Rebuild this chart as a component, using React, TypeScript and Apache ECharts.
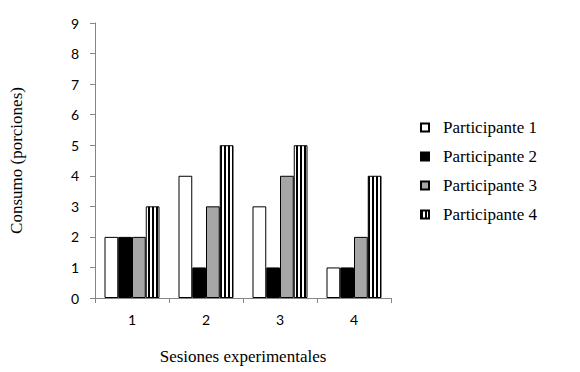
import React, { useEffect, useRef } from "react";
import * as echarts from "echarts";

const categories = ["1", "2", "3", "4"];
const seriesNames = ["Participante 1", "Participante 2", "Participante 3", "Participante 4"];
const p1 = [2, 4, 3, 1];
const p2 = [2, 1, 1, 1];
const p3 = [2, 3, 4, 2];
const p4 = [3, 5, 5, 4];
const yTicks = [0, 1, 2, 3, 4, 5, 6, 7, 8, 9];

function makeStripe(): HTMLCanvasElement {
  const c = document.createElement("canvas");
  c.width = 4;
  c.height = 4;
  const ctx = c.getContext("2d")!;
  ctx.fillStyle = "#ffffff";
  ctx.fillRect(0, 0, 4, 4);
  ctx.fillStyle = "#000000";
  ctx.fillRect(0, 0, 2, 4);
  return c;
}

export default function App() {
  const ref = useRef<HTMLDivElement>(null);
  useEffect(() => {
    if (!ref.current) return;
    const chart = echarts.init(ref.current, undefined, { renderer: "svg" });
    const stripe = makeStripe();
    const fills: any[] = [
      "#ffffff",
      "#000000",
      "#a6a6a6",
      { image: stripe, repeat: "repeat" },
    ];
    const values = [p1, p2, p3, p4];
    chart.setOption({
      animation: false,
      backgroundColor: "#ffffff",
      grid: { left: 91, right: 189, top: 23, bottom: 74, containLabel: false },
      legend: {
        orient: "vertical",
        left: 420,
        top: 119,
        padding: 0,
        itemWidth: 8,
        itemHeight: 8,
        itemGap: 12,
        icon: "rect",
        data: seriesNames,
        textStyle: {
          fontFamily: "Liberation Serif",
          fontSize: 17,
          color: "#000",
          padding: [0, 0, 0, 9],
        },
      },
      xAxis: {
        type: "category",
        data: categories,
        axisLine: { lineStyle: { color: "#868686", width: 1 } },
        axisTick: { show: true, length: 5, lineStyle: { color: "#868686" } },
        axisLabel: { fontFamily: "Lato", fontSize: 14, color: "#000", margin: 14 },
        name: "Sesiones experimentales",
        nameLocation: "middle",
        nameGap: 50,
        nameTextStyle: { fontFamily: "Liberation Serif", fontSize: 17, color: "#000" },
      },
      yAxis: {
        type: "value",
        min: 0,
        max: 9,
        interval: 1,
        splitLine: { show: false },
        axisLine: { show: true, lineStyle: { color: "#868686", width: 1 } },
        axisTick: { show: true, length: 5, lineStyle: { color: "#868686" } },
        axisLabel: {
          fontFamily: "Lato",
          fontSize: 14,
          color: "#000",
          margin: 16,
          formatter: (v: number) => (yTicks.includes(v) ? String(v) : ""),
        },
        name: "Consumo (porciones)",
        nameLocation: "middle",
        nameGap: 70,
        nameRotate: 90,
        nameTextStyle: { fontFamily: "Liberation Serif", fontSize: 17, color: "#000" },
      },
      series: seriesNames.map((n, i) => ({
        name: n,
        type: "bar",
        data: values[i],
        barWidth: 13.75,
        barGap: "0%",
        itemStyle: { color: fills[i], borderColor: "#000", borderWidth: 1 },
      })),
    });
    return () => chart.dispose();
  }, []);
  return (
    <div
      ref={ref}
      style={{ position: "absolute", left: 0, top: 0, width: 580, height: 372 }}
    />
  );
}
